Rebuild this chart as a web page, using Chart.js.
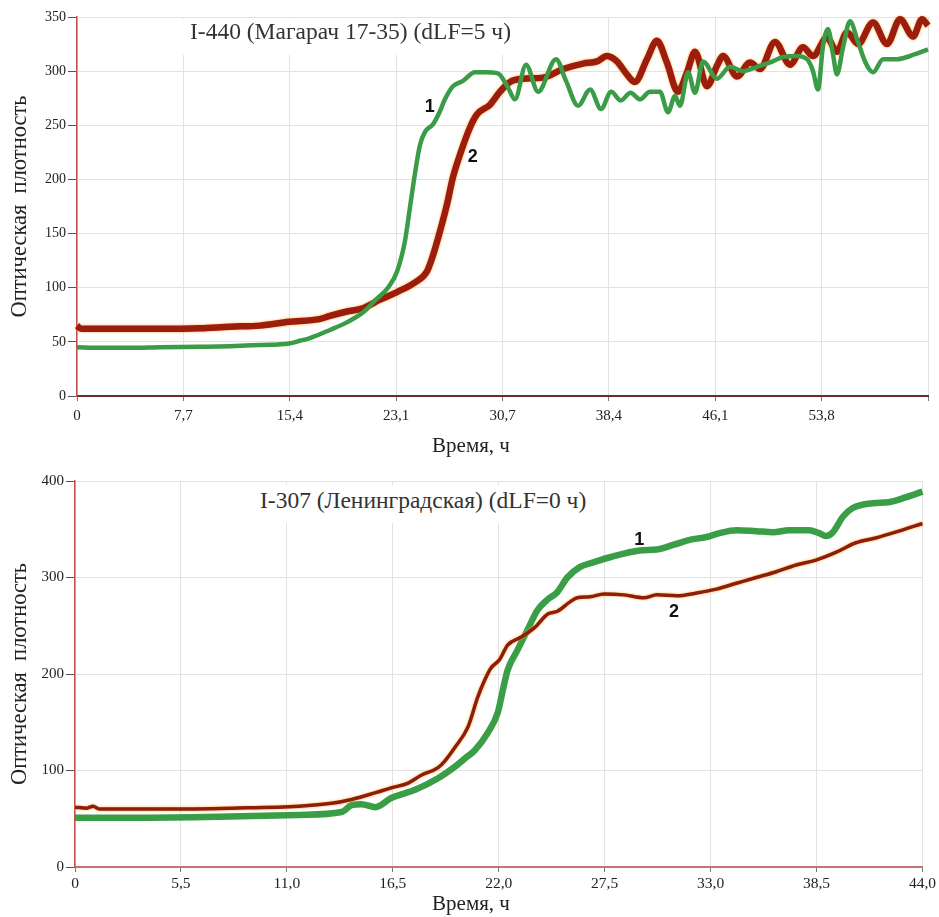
<!DOCTYPE html>
<html>
<head>
<meta charset="utf-8">
<script src="https://cdn.jsdelivr.net/npm/chart.js@4.4.1/dist/chart.umd.min.js"></script>
<style>
  body { margin: 0; background: #fff; }
  #wrap { position: relative; width: 939px; height: 917px; overflow: hidden; background: #fff; }
  canvas { position: absolute; left: 0; }
  .ttl { position: absolute; background: #fff; font-family: 'Liberation Serif', 'DejaVu Serif', serif; color: #333; white-space: nowrap; z-index: 2; }
  .xt { position: absolute; font-family: 'Liberation Serif', 'DejaVu Serif', serif; color: #222; font-size: 21px; white-space: nowrap; transform: translateX(-50%); z-index: 2; }
</style>
</head>
<body>
<div id="wrap">
  <canvas id="c1" width="939" height="460" style="top:0px"></canvas>
  <canvas id="c2" width="939" height="457" style="top:460px"></canvas>
  <div class="ttl" style="left:182px;top:19px;font-size:23.5px;line-height:24px;padding:0 8px 12px 8px;">I-440 (Магарач 17-35) (dLF=5 ч)</div>
  <div class="ttl" style="left:252px;top:485px;font-size:23.5px;line-height:26px;padding:2px 8px 10px 8px;">I-307 (Ленинградская) (dLF=0 ч)</div>
  <div class="xt" style="left:471px;top:433px;">Время, ч</div>
  <div class="xt" style="left:471px;top:891px;">Время, ч</div>
</div>
<script>
// ---------- Chart 1: I-440 (Магарач 17-35) ----------
const topTime1 = [0, 1.66, 3.83, 6.0, 8.89, 11.06, 13.23, 15.32, 16.12, 16.84, 18.28, 19.5, 20.66, 21.6, 22.47, 23.13, 23.70, 24.06, 24.42, 24.79, 25.15, 25.73, 26.23, 26.59, 27.17, 27.89, 28.76, 29.5, 30.42, 31.14, 31.65, 32.45, 33.32, 34.62, 35.34, 36.21, 37.08, 37.87, 38.6, 39.3, 40.0, 40.7, 41.4, 42.13, 42.71, 43.22, 43.58, 44.16, 44.66, 45.24, 46.25, 47.19, 48.13, 49.14, 50.08, 51.02, 52.03, 52.76, 53.19, 53.55, 53.91, 54.27, 54.64, 54.92, 55.36, 55.86, 56.44, 56.95, 57.53, 58.25, 59.26, 60.20, 61.5];
const topValue1 = [45, 44.5, 44.5, 45, 45.5, 46, 47, 48.5, 51, 53.5, 61, 68, 77, 89, 100, 115, 143, 174, 205, 232, 244, 251, 263, 274, 286, 291, 299, 299, 298, 285, 274, 306, 281, 311, 291, 268, 283, 265, 281, 273, 280, 274, 281, 281, 262, 277, 268, 299, 280, 309, 293, 304, 300, 304, 308, 313, 314, 311, 300, 283, 323, 339, 315, 297, 322, 346, 327, 309, 299, 311, 311, 314, 320];
const topTime2 = [0, 0.3, 1.66, 3.83, 6.0, 8.89, 11.06, 13.23, 15.32, 17.5, 18.28, 19.5, 20.66, 21.9, 23.13, 24.43, 25.29, 25.73, 26.23, 26.74, 27.17, 27.68, 28.40, 28.90, 29.85, 30.57, 31.29, 32.23, 33.68, 35.13, 36.57, 37.58, 38.30, 39.02, 39.74, 40.32, 41.19, 41.91, 42.63, 43.43, 44.09, 44.66, 45.53, 46.25, 46.69, 47.70, 48.64, 49.36, 50.44, 51.53, 52.47, 53.19, 54.20, 54.92, 55.65, 56.44, 57.53, 58.54, 59.48, 60.42, 61.07, 61.5];
const topValue2 = [65, 62, 62, 62, 62, 62.5, 64, 65, 68.5, 71, 74, 78, 81, 89, 96, 105, 115, 130, 152, 177, 202, 223, 248, 260, 269, 281, 290, 293, 294, 302, 307, 309, 314, 309, 297, 290, 311, 328, 308, 281, 299, 318, 286, 305, 314, 295, 308, 302, 327, 306, 322, 314, 331, 318, 336, 325, 345, 325, 348, 332, 348, 342];
const topXTicks = [0, 7.6875, 15.375, 23.0625, 30.75, 38.4375, 46.125, 53.8125, 61.5];
const topXLabels = ['0', '7,7', '15,4', '23,1', '30,7', '38,4', '46,1', '53,8', ''];
const topYTicks = [0, 50, 100, 150, 200, 250, 300, 350];
const topCurveNames = ['1', '2'];
const topCurveLabelTime = [25.5, 28.6];
const topCurveLabelValue = [267, 221];

// ---------- Chart 2: I-307 (Ленинградская) ----------
const botTime1 = [0, 3.0, 7.49, 11.62, 13.84, 14.36, 14.87, 15.60, 16.42, 17.66, 18.85, 19.73, 20.40, 20.76, 21.43, 21.95, 22.21, 22.46, 22.98, 23.50, 24.01, 24.53, 25.05, 25.56, 26.23, 26.96, 27.78, 29.33, 30.21, 31.09, 31.91, 32.79, 33.46, 34.34, 35.37, 36.25, 37.08, 38.11, 38.63, 38.99, 39.35, 39.87, 40.38, 41.42, 42.24, 43.12, 44.0];
const botValue1 = [51, 51, 52, 54, 57, 64, 65, 62, 71.5, 80, 92, 104, 115, 121, 139, 160, 183, 204, 225, 246, 266, 277, 285, 300, 311, 316, 321, 328, 329, 334, 339, 342, 346, 349, 348, 347, 349, 349, 346, 343, 347, 363, 372, 377, 378, 383, 389];
const botTime2 = [0, 0.62, 0.93, 1.29, 4.75, 8.16, 11.62, 13.32, 14.36, 15.60, 16.42, 17.30, 17.97, 18.85, 19.21, 19.73, 20.40, 20.91, 21.28, 21.59, 22.05, 22.46, 23.14, 23.86, 24.53, 25.05, 25.72, 26.08, 26.75, 27.47, 28.51, 29.54, 30.21, 31.24, 32.28, 33.31, 34.34, 35.37, 36.41, 37.44, 38.47, 39.50, 40.54, 41.57, 42.60, 44.0];
const botValue2 = [62, 61, 63, 60, 60, 61, 63, 66, 70, 77, 82, 87, 95, 103, 110, 124, 145, 176, 194, 206, 215, 230, 238, 248, 262, 265, 275, 279, 280, 283, 282, 279, 282, 281, 284, 288, 294, 300, 306, 313, 318, 326, 336, 341, 347, 356];
const botXTicks = [0, 5.5, 11, 16.5, 22, 27.5, 33, 38.5, 44];
const botXLabels = ['0', '5,5', '11,0', '16,5', '22,0', '27,5', '33,0', '38,5', '44,0'];
const botYTicks = [0, 100, 200, 300, 400];
const botCurveNames = ['1', '2'];
const botCurveLabelTime = [29.3, 31.1];
const botCurveLabelValue = [339, 264];

const yTitle = 'Оптическая  плотность';
const serif = "'Liberation Serif', 'DejaVu Serif', serif";

const toXY = (ts, vs) => ts.map((t, i) => ({ x: t, y: vs[i] }));

const haloPlugin = {
  id: 'halo',
  beforeDatasetDraw(chart, args) {
    const ds = chart.data.datasets[args.index];
    if (ds.halo) { chart.ctx.save(); chart.ctx.shadowColor = ds.halo; chart.ctx.shadowBlur = 2.5; }
  },
  afterDatasetDraw(chart, args) {
    const ds = chart.data.datasets[args.index];
    if (ds.halo) chart.ctx.restore();
  }
};

const curveLabelPlugin = {
  id: 'curveLabels',
  afterDatasetsDraw(chart, args, opts) {
    const { ctx, scales: { x, y } } = chart;
    ctx.save();
    ctx.font = "bold 18px 'Liberation Sans', Arial, sans-serif";
    ctx.fillStyle = '#111';
    ctx.textAlign = 'center';
    ctx.textBaseline = 'middle';
    opts.names.forEach((n, i) => ctx.fillText(n, x.getPixelForValue(opts.times[i]), y.getPixelForValue(opts.values[i])));
    ctx.restore();
  }
};

function makeChart(id, cfg) {
  return new Chart(document.getElementById(id), {
    type: 'line',
    data: { datasets: cfg.datasets },
    plugins: [haloPlugin, curveLabelPlugin],
    options: {
      responsive: false,
      animation: false,
      events: [],
      layout: { padding: { top: cfg.padTop, right: cfg.padRight, left: 0, bottom: 0 } },
      plugins: {
        legend: { display: false },
        tooltip: { enabled: false },
        curveLabels: cfg.curveLabels
      },
      elements: { point: { radius: 0 }, line: { cubicInterpolationMode: 'monotone' } },
      scales: {
        x: {
          type: 'linear', min: cfg.xMin, max: cfg.xMax,
          afterBuildTicks: s => { s.ticks = cfg.xTicks.map(v => ({ value: v })); },
          afterFit: s => { s.height = cfg.xHeight; },
          ticks: {
            autoSkip: false, maxRotation: 0, padding: cfg.xTickPad,
            color: '#222', font: { family: serif, size: cfg.xFont },
            callback: (v, i) => cfg.xLabels[i]
          },
          grid: { color: '#e2e2e2', lineWidth: 1, tickLength: 5, tickColor: '#777' },
          border: { color: cfg.xBorder, width: 2 }
        },
        y: {
          type: 'linear', min: cfg.yMin, max: cfg.yMax,
          afterBuildTicks: s => { s.ticks = cfg.yTicks.map(v => ({ value: v })); },
          afterFit: s => { s.width = cfg.yWidth; },
          ticks: {
            padding: 2, color: '#222', font: { family: serif, size: cfg.yFont },
            callback: v => String(v)
          },
          grid: { color: '#e2e2e2', lineWidth: 1, tickLength: 9, tickColor: '#555' },
          border: { color: '#c0504d', width: 1.5 },
          title: {
            display: true, text: yTitle, color: '#222',
            font: { family: serif, size: 22.5, lineHeight: 1 },
            padding: { top: 9, bottom: 0 }
          }
        }
      }
    }
  });
}

makeChart('c1', {
  padTop: 17, padRight: 11, xHeight: 64, yWidth: 77,
  xMin: 0, xMax: 61.5, yMin: 0, yMax: 350,
  xTicks: topXTicks, xLabels: topXLabels, yTicks: topYTicks,
  xFont: 15, yFont: 14, xTickPad: 6, xBorder: '#6e2b2b',
  curveLabels: { names: topCurveNames, times: topCurveLabelTime, values: topCurveLabelValue },
  datasets: [
    { label: '1', data: toXY(topTime1, topValue1), borderColor: '#3a9c46', borderWidth: 4.5, clip: 6 },
    { label: '2', data: toXY(topTime2, topValue2), borderColor: '#9c1c0e', borderWidth: 6.5, halo: 'rgba(250,170,40,0.95)', clip: 6 }
  ]
});

makeChart('c2', {
  padTop: 21, padRight: 12, xHeight: 50, yWidth: 75,
  xMin: 0, xMax: 44, yMin: 0, yMax: 400,
  xTicks: botXTicks, xLabels: botXLabels, yTicks: botYTicks,
  xFont: 15.5, yFont: 15, xTickPad: 3, xBorder: '#c87373',
  curveLabels: { names: botCurveNames, times: botCurveLabelTime, values: botCurveLabelValue },
  datasets: [
    { label: '2', data: toXY(botTime2, botValue2), borderColor: '#8e1d0c', borderWidth: 3.5, halo: 'rgba(250,170,40,0.95)', clip: 6 },
    { label: '1', data: toXY(botTime1, botValue1), borderColor: '#3a9e46', borderWidth: 6.5, clip: 6 }
  ]
});
</script>
</body>
</html>
